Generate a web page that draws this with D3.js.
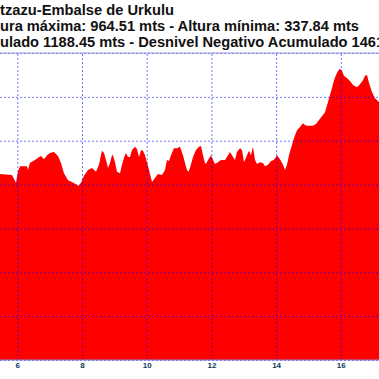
<!DOCTYPE html>
<html><head><meta charset="utf-8">
<script src="https://cdn.jsdelivr.net/npm/d3@7"></script>
<style>body{margin:0;background:#fff;overflow:hidden}svg{display:block}</style>
</head><body>
<svg id="c" width="379" height="379"></svg>
<script>
// title lines split as: part hidden past the left edge | visible part | part hidden past the right edge
const titleHidden = ["Aran", "Alt", "Desnivel Positivo Acum"];
const titleVisible = ["tzazu-Embalse de Urkulu", "ura máxima: 964.51 mts - Altura mínima: 337.84 mts", "ulado 1188.45 mts - Desnivel Negativo Acumulado 146"];
const titleTail = ["", "", "1.84 mts"];
const titleEnds = [174, 359, 376];
const xTicks = [6, 8, 10, 12, 14, 16];
const yTicks = [300, 400, 500, 600, 700, 800, 900, 1000];
const km = [5.40,5.465,5.836,5.96,6.02,6.083,6.30,6.33,6.39,6.547,6.64,6.733,6.825,6.918,7.01,7.134,7.258,7.35,7.443,7.567,7.69,7.814,7.876,7.969,8.062,8.185,8.309,8.433,8.525,8.587,8.618,8.68,8.742,8.804,8.865,8.927,8.958,9.02,9.082,9.175,9.236,9.298,9.36,9.422,9.484,9.545,9.638,9.70,9.762,9.824,9.885,9.947,10.009,10.071,10.133,10.164,10.256,10.349,10.473,10.565,10.627,10.689,10.751,10.844,10.936,11.029,11.122,11.184,11.245,11.292,11.338,11.431,11.524,11.616,11.678,11.74,11.802,11.833,11.895,11.988,12.05,12.111,12.204,12.297,12.42,12.513,12.575,12.637,12.729,12.791,12.884,12.946,13.008,13.10,13.162,13.224,13.286,13.348,13.41,13.502,13.595,13.657,13.75,13.842,13.935,14.028,14.12,14.213,14.275,14.337,14.398,14.491,14.553,14.646,14.738,14.831,14.893,14.955,15.048,15.14,15.233,15.326,15.418,15.511,15.604,15.666,15.728,15.79,15.851,15.913,15.975,16.037,16.098,16.191,16.284,16.377,16.50,16.593,16.686,16.748,16.81,16.871,16.964,17.057,17.18,17.25];
const elev = [724,724,722,704,729,742,742,733,749,756,761,765,758,767,772,774,765,749,726,710,706,701,697,704,720,733,738,729,745,767,777,772,756,738,749,767,767,751,729,726,745,761,772,763,763,779,786,781,763,779,777,767,751,733,715,706,715,724,722,733,756,754,767,783,783,786,767,749,733,729,738,763,779,786,788,767,749,747,756,767,756,747,751,756,756,767,774,767,756,774,783,779,751,767,777,767,786,756,747,751,749,742,745,754,756,767,758,745,733,745,767,790,806,824,831,840,836,834,834,834,838,847,856,865,888,904,920,938,950,959,964,959,948,943,936,927,922,929,938,948,950,932,911,897,888,885];

const svg = d3.select("#c");
const plotTop = 53, plotBottom = 360;
const x = d3.scaleLinear().domain([6, 16]).range([17.3, 340.8]);
const y = d3.scaleLinear().domain([300, 1000]).range([plotBottom, plotTop]);
const data = km.map((k, i) => ({k, e: elev[i]}));

// area
svg.append("path").datum(data)
  .attr("fill", "#ff0000")
  .attr("d", d3.area().x(d => x(d.k)).y0(y(300)).y1(d => y(d.e)));

// grid
const gridColor = "#0000ff";
svg.append("g").attr("transform", `translate(0,${plotBottom})`)
  .call(d3.axisBottom(x).tickValues(xTicks).tickSize(-(plotBottom - plotTop)).tickFormat(""))
  .call(g => g.select(".domain").remove())
  .call(g => g.selectAll("line").attr("stroke", gridColor).attr("stroke-opacity", 0.55).attr("stroke-dasharray", "2,2"));
svg.append("g")
  .call(d3.axisLeft(y).tickValues(yTicks).tickSize(0).tickFormat(""))
  .call(g => g.select(".domain").remove())
  .call(g => g.selectAll(".tick line").attr("x1", 0).attr("x2", 379).attr("stroke", gridColor).attr("stroke-opacity", 0.55).attr("stroke-dasharray", "2,2"));

// frame lines
svg.append("line").attr("x1", 0).attr("x2", 379).attr("y1", plotTop).attr("y2", plotTop)
  .attr("stroke", "#9a9ae0").attr("stroke-width", 1.2);
svg.append("line").attr("x1", 0).attr("x2", 379).attr("y1", plotBottom).attr("y2", plotBottom)
  .attr("stroke", "#8a8ae0").attr("stroke-width", 1.2);

// tick labels
svg.append("g").attr("transform", `translate(0,${plotBottom})`)
  .call(d3.axisBottom(x).tickValues(xTicks).tickSize(0).tickPadding(2).tickFormat(d3.format("d")))
  .call(g => g.select(".domain").remove())
  .call(g => g.selectAll("text").attr("font-family", "Liberation Sans, Arial, sans-serif")
    .attr("font-weight", "bold").attr("font-size", 8).attr("fill", "#0b3a5a"));

// titles
const tg = svg.append("g").attr("font-family", "Liberation Sans, Arial, sans-serif")
  .attr("font-weight", "bold").attr("font-size", 15.3).attr("fill", "#111");
const baselines = [14.5, 31, 47.3];
titleVisible.forEach((s, i) => {
  const t = tg.append("text").attr("y", baselines[i]);
  t.append("tspan").attr("x", 0).attr("text-anchor", "end").text(titleHidden[i]);
  t.append("tspan").attr("x", 0).attr("text-anchor", "start")
    .attr("textLength", titleEnds[i]).attr("lengthAdjust", "spacingAndGlyphs").text(s);
  if (titleTail[i]) t.append("tspan").text(titleTail[i]);
});
</script>
</body></html>
